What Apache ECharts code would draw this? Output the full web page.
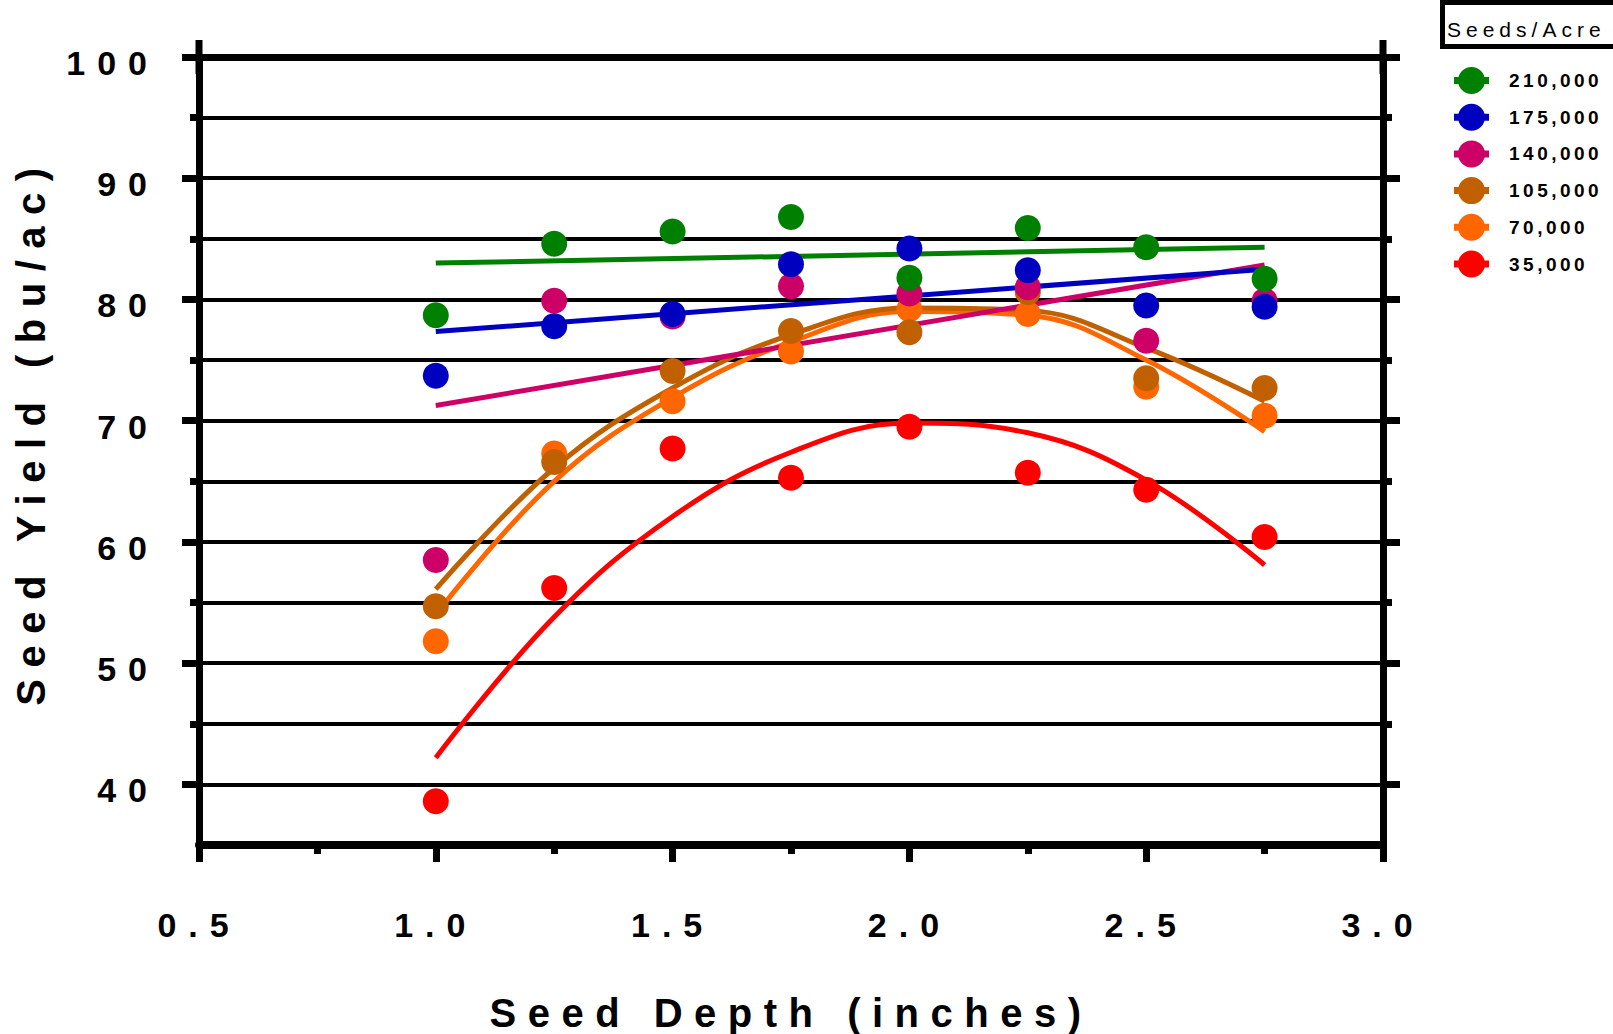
<!DOCTYPE html>
<html>
<head>
<meta charset="utf-8">
<script src="https://cdn.jsdelivr.net/npm/echarts@6/dist/echarts.min.js"></script>
<style>
  html, body { margin: 0; padding: 0; background: #fff; }
  #chart { width: 1613px; height: 1034px; }
  #chart text[style*="34px"] { letter-spacing: 12px; }
  #chart text[style*="40px"] { letter-spacing: 11.5px; }
  #chart text[style*="19px"] { letter-spacing: 3.5px; }
  #chart text[style*="21px"] { letter-spacing: 5px; }
</style>
</head>
<body>
<div id="chart"></div>
<script>
// ---- data ----
const seedDepth = [1.0, 1.25, 1.5, 1.75, 2.0, 2.25, 2.5, 2.75];
const seriesNames = ['210,000', '175,000', '140,000', '105,000', '70,000', '35,000'];
const yield210k = [78.7, 84.6, 85.6, 86.8, 81.8, 85.9, 84.3, 81.7];
const yield175k = [73.7, 77.8, 78.8, 82.9, 84.2, 82.4, 79.5, 79.4];
const yield140k = [58.5, 79.9, 78.6, 81.1, 80.5, 81.0, 76.6, 79.9];
const yield105k = [54.7, 66.6, 74.1, 77.4, 77.3, 80.6, 73.5, 72.7];
const yield70k  = [51.8, 67.3, 71.6, 75.7, 79.2, 78.8, 72.8, 70.4];
const yield35k  = [38.6, 56.2, 67.7, 65.3, 69.5, 65.7, 64.3, 60.4];

// fitted curves
const fitLinearX = [1.0, 2.75];
const fit210k = [83.0, 84.3];
const fit175k = [77.35, 82.5];
const fit140k = [71.25, 82.85];
const fitCurveX = [1.0, 1.25, 1.5, 1.75, 2.0, 2.25, 2.5, 2.75];
const fit105k = [56.1, 66.1, 72.7, 77.1, 79.3, 79.1, 76.0, 71.6];
const fit70k  = [54.0, 65.0, 71.9, 76.5, 79.0, 78.7, 75.0, 69.1];
const fit35k  = [42.2, 53.8, 62.1, 67.4, 69.8, 69.0, 65.1, 58.1];

// axis ticks
const yMajorTicks = [40, 50, 60, 70, 80, 90, 100];
const yMinorTicks = [45, 55, 65, 75, 85, 95];

const colors = {
  '210,000': '#008000',
  '175,000': '#0000C0',
  '140,000': '#CC0066',
  '105,000': '#C06000',
  '70,000':  '#FF6600',
  '35,000':  '#FF0000'
};

const FONT = '"Liberation Sans", Arial, Helvetica, sans-serif';
const zip = (xs, ys) => xs.map((x, i) => [x, ys[i]]);

const pointSets = [
  ['35,000', yield35k], ['70,000', yield70k], ['105,000', yield105k],
  ['140,000', yield140k], ['175,000', yield175k], ['210,000', yield210k]
];
const fitSets = [
  ['35,000', fitCurveX, fit35k], ['70,000', fitCurveX, fit70k], ['105,000', fitCurveX, fit105k],
  ['140,000', fitLinearX, fit140k], ['175,000', fitLinearX, fit175k], ['210,000', fitLinearX, fit210k]
];

const series = [];
pointSets.forEach(([name, ys]) => {
  series.push({
    name: name, type: 'scatter', z: 4,
    symbol: 'circle', symbolSize: 26,
    itemStyle: { color: colors[name], opacity: 1 },
    data: zip(seedDepth, ys)
  });
});
fitSets.forEach(([name, xs, ys]) => {
  series.push({
    name: name, type: 'line', z: 3,
    showSymbol: false, symbol: 'none',
    smooth: xs.length > 2 ? 0.4 : false,
    lineStyle: { color: colors[name], width: 5, cap: 'butt' },
    itemStyle: { color: colors[name] },
    data: zip(xs, ys)
  });
});

const LEG_ICON = 'path://M0,10L35,10L35,17L0,17Z M31,13.5A13.5,13.5,0,1,1,4,13.5A13.5,13.5,0,1,1,31,13.5Z';

const yBase = (extra) => Object.assign({
  type: 'value', min: 35, max: 100,
  splitLine: { show: false },
  axisLine: { show: false, onZero: false },
  axisTick: { show: false },
  axisLabel: { show: false }
}, extra);

const labelStyle = { fontSize: 34, fontWeight: 'bold', color: '#000', fontFamily: FONT };

const option = {
  animation: false,
  backgroundColor: '#fff',
  grid: { left: 199, right: 230, top: 57, bottom: 189, containLabel: false, outerBoundsMode: 'none' },
  legend: {
    orient: 'vertical', left: 1449, top: 62,
    itemWidth: 35, itemHeight: 27, itemGap: 9.7,
    icon: LEG_ICON,
    selectedMode: false,
    textStyle: { fontSize: 19, fontWeight: 'bold', color: '#000', fontFamily: FONT, padding: [0, 0, 0, 15] },
    data: seriesNames
  },
  graphic: [
    { type: 'rect', z: 10, shape: { x: 1442.5, y: 2.5, width: 200, height: 44 },
      style: { fill: '#fff', stroke: '#000', lineWidth: 5 } },
    { type: 'text', z: 11, x: 1447, y: 29.3,
      style: { text: 'Seeds/Acre', font: '21px ' + FONT, fill: '#000', align: 'left', verticalAlign: 'middle' } }
  ],
  xAxis: [
    {
      type: 'value', position: 'bottom', min: 0.5, max: 3.0, interval: 0.5,
      axisLine: { show: true, onZero: false, lineStyle: { color: '#000', width: 8 } },
      axisTick: { show: true, length: 17, lineStyle: { color: '#000', width: 7 } },
      minorTick: { show: true, splitNumber: 2, length: 9, lineStyle: { color: '#000', width: 7 } },
      splitLine: { show: false },
      axisLabel: Object.assign({ margin: 63, formatter: (v) => v.toFixed(1) }, labelStyle),
      name: 'Seed Depth (inches)', nameLocation: 'middle', nameGap: 148,
      nameTextStyle: { fontSize: 40, fontWeight: 'bold', color: '#000', fontFamily: FONT }
    },
    {
      type: 'value', position: 'top', min: 0.5, max: 3.0, interval: 0.5,
      axisLine: { show: true, onZero: false, lineStyle: { color: '#000', width: 7 } },
      axisTick: { show: false }, axisLabel: { show: false }, splitLine: { show: false }
    }
  ],
  yAxis: [
    yBase({ position: 'left', interval: 5,
      splitLine: { show: true, lineStyle: { color: '#000', width: 4 } } }),
    yBase({ position: 'left',
      axisLine: { show: true, onZero: false, symbol: ['none', 'rect'], symbolSize: [7, 34],
        lineStyle: { color: '#000', width: 7 } },
      axisTick: { show: true, customValues: yMajorTicks, length: 17, lineStyle: { color: '#000', width: 7 } },
      axisLabel: Object.assign({ show: true, customValues: yMajorTicks, margin: 40,
        formatter: (v) => '{v|' + v + '}',
        rich: { v: Object.assign({ padding: [12, 0, 0, 0] }, labelStyle) } }, labelStyle),
      name: 'Seed Yield (bu/ac)', nameLocation: 'middle', nameGap: 148, nameRotate: 90,
      nameTextStyle: { fontSize: 40, fontWeight: 'bold', color: '#000', fontFamily: FONT, padding: [0, 0, 0, 40] }
    }),
    yBase({ position: 'left',
      axisTick: { show: true, customValues: yMinorTicks, length: 9, lineStyle: { color: '#000', width: 7 } } }),
    yBase({ position: 'right',
      axisLine: { show: true, onZero: false, symbol: ['none', 'rect'], symbolSize: [7, 34],
        lineStyle: { color: '#000', width: 7 } },
      axisTick: { show: true, customValues: yMajorTicks, length: 17, lineStyle: { color: '#000', width: 7 } } }),
    yBase({ position: 'right',
      axisTick: { show: true, customValues: yMinorTicks, length: 9, lineStyle: { color: '#000', width: 7 } } })
  ],
  series: series
};

const chart = echarts.init(document.getElementById('chart'), null, { renderer: 'svg', width: 1613, height: 1034 });
chart.setOption(option);
</script>
</body>
</html>
